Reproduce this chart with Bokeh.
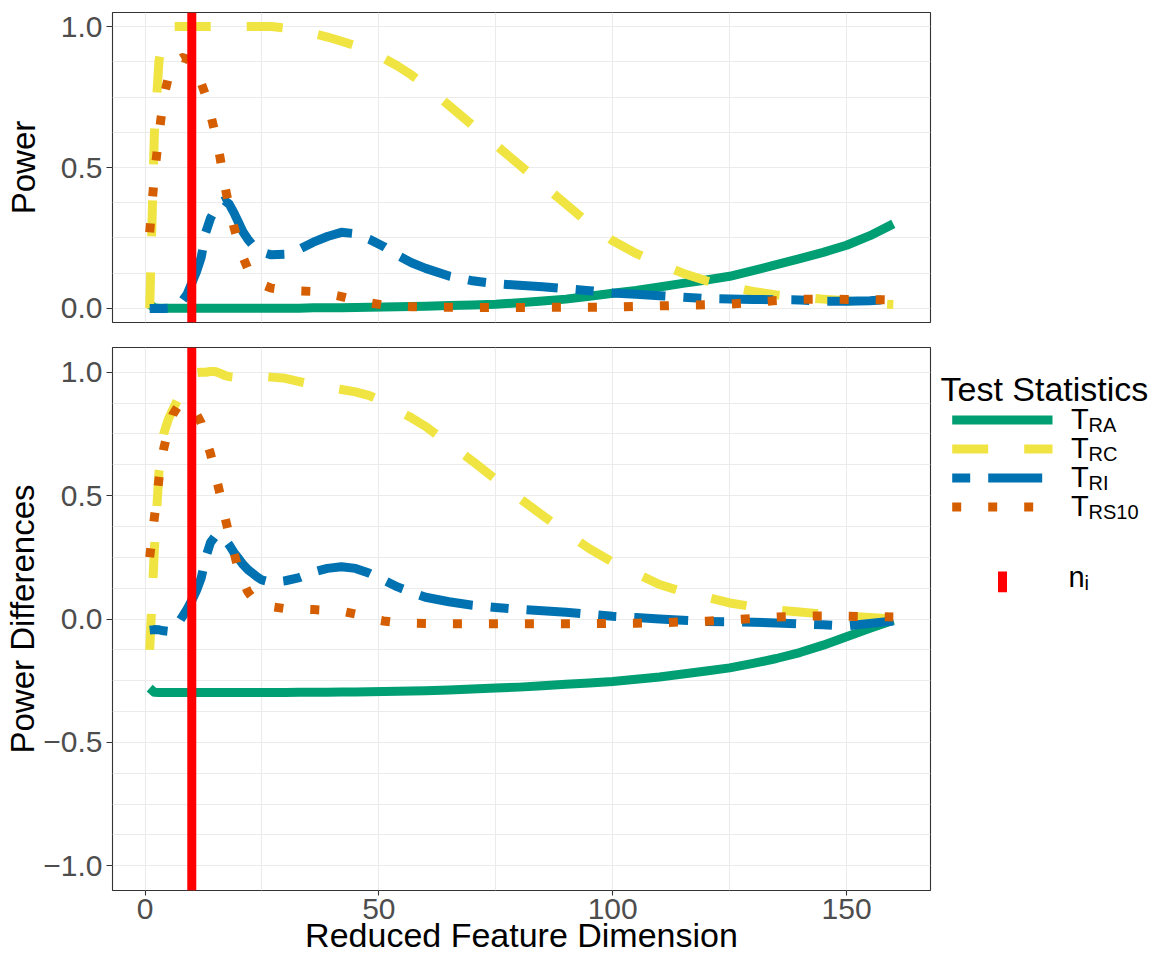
import numpy as np
from bokeh.plotting import figure
from bokeh.layouts import column, row
from bokeh.models import Range1d, FixedTicker, Span, CustomJSTickFormatter
from bokeh.embed import file_html
from bokeh.resources import INLINE
from bokeh.core.properties import value

FONT = "Liberation Sans"

# ---------------- data ----------------
dimension = [1, 2, 3, 4, 5, 6, 7, 8, 9, 10,
             11, 12, 13, 14, 15, 16, 17, 18, 19, 20,
             21, 22, 23, 24, 25,
             27, 30, 33, 36, 39, 42, 45, 48, 51, 54, 57, 60,
             65, 70, 75, 80, 85, 90, 95, 100, 105, 110, 115, 120, 125, 130,
             135, 140, 145, 150, 155, 160]

power_RA = [0.015, 0.002, 0.001, 0.001, 0.001, 0.001, 0.001, 0.001, 0.001, 0.001,
            0.001, 0.001, 0.001, 0.001, 0.001, 0.001, 0.001, 0.001, 0.001, 0.001,
            0.001, 0.001, 0.001, 0.001, 0.001,
            0.001, 0.001, 0.001, 0.002, 0.002, 0.002, 0.003, 0.004, 0.005, 0.006, 0.007, 0.008,
            0.010, 0.012, 0.015, 0.020, 0.026, 0.033, 0.043, 0.054, 0.064, 0.076,
            0.089, 0.101, 0.114, 0.134, 0.155, 0.177, 0.199, 0.224, 0.258, 0.300]

power_RC = [0.0, 0.62, 0.88, 0.96, 0.99, 1.0, 1.0, 1.0, 1.0, 1.0,
            1.0, 1.0, 1.0, 1.0, 1.0, 1.0, 1.0, 1.0, 1.0, 1.0,
            1.0, 1.0, 1.0, 1.0, 1.0,
            1.0, 0.995, 0.985, 0.975, 0.963, 0.948, 0.932, 0.912, 0.888, 0.86, 0.828, 0.79,
            0.72, 0.65, 0.58, 0.51, 0.44, 0.37, 0.30, 0.24, 0.195, 0.158,
            0.125, 0.098, 0.077, 0.06, 0.048, 0.04, 0.033, 0.027, 0.018, 0.014]

power_RI = [0.0, 0.0, 0.0, 0.0, 0.001, 0.004, 0.012, 0.028, 0.05, 0.09,
            0.13, 0.18, 0.27, 0.32, 0.35, 0.375, 0.383, 0.37, 0.34, 0.305,
            0.27, 0.245, 0.225, 0.21, 0.2,
            0.19, 0.192, 0.21, 0.235, 0.255, 0.27, 0.265, 0.245, 0.22, 0.188, 0.162, 0.142,
            0.115, 0.098, 0.088, 0.082, 0.077, 0.07, 0.063, 0.055, 0.05, 0.045,
            0.04, 0.035, 0.033, 0.032, 0.031, 0.03, 0.026, 0.025, 0.027, 0.032]

power_RS10 = [0.27, 0.47, 0.62, 0.75, 0.82, 0.86, 0.88, 0.89, 0.885, 0.87,
              0.84, 0.80, 0.755, 0.69, 0.62, 0.54, 0.44, 0.36, 0.29, 0.23,
              0.18, 0.14, 0.115, 0.095, 0.085,
              0.072, 0.065, 0.062, 0.06, 0.052, 0.042, 0.03, 0.02, 0.012, 0.008, 0.006, 0.005,
              0.004, 0.0035, 0.0035, 0.0035, 0.0035, 0.004, 0.004, 0.005, 0.007, 0.009,
              0.011, 0.013, 0.015, 0.022, 0.028, 0.032, 0.033, 0.032, 0.031, 0.03]

diff_RA = [-0.28, -0.297, -0.298, -0.298, -0.298, -0.298, -0.298, -0.298, -0.298, -0.298,
           -0.298, -0.298, -0.298, -0.298, -0.298, -0.298, -0.298, -0.298, -0.298, -0.298,
           -0.298, -0.298, -0.298, -0.298, -0.298,
           -0.298, -0.298, -0.297, -0.297, -0.297, -0.296, -0.296, -0.295, -0.294, -0.293, -0.292, -0.291,
           -0.288, -0.284, -0.280, -0.276, -0.270, -0.264, -0.259, -0.253, -0.244, -0.235,
           -0.223, -0.211, -0.198, -0.180, -0.160, -0.136, -0.106, -0.072, -0.038, -0.005]

diff_RC = [-0.125, 0.28, 0.6, 0.75, 0.81, 0.85, 0.89, 0.93, 0.96, 0.985,
           0.998, 1.0, 1.0, 1.003, 1.003, 0.996, 0.987, 0.982, 0.98, 0.98,
           0.982, 0.983, 0.984, 0.984, 0.983,
           0.98, 0.975, 0.962, 0.95, 0.94, 0.93, 0.92, 0.905, 0.88, 0.845, 0.815, 0.78,
           0.71, 0.64, 0.565, 0.49, 0.42, 0.35, 0.285, 0.23, 0.185, 0.14,
           0.11, 0.088, 0.065, 0.05, 0.037, 0.028, 0.02, 0.012, 0.006, 0.0]

diff_RI = [-0.045, -0.043, -0.044, -0.048, -0.05, -0.04, -0.02, 0.01, 0.04, 0.075,
           0.115, 0.165, 0.25, 0.31, 0.335, 0.34, 0.325, 0.3, 0.27, 0.245,
           0.22, 0.2, 0.185, 0.17, 0.158,
           0.148, 0.155, 0.168, 0.19, 0.205, 0.212, 0.205, 0.185, 0.158, 0.13, 0.108, 0.088,
           0.07, 0.056, 0.047, 0.039, 0.033, 0.027, 0.019, 0.011, 0.006, 0.0,
           -0.005, -0.01, -0.011, -0.013, -0.016, -0.02, -0.023, -0.028, -0.018, -0.008]

diff_RS10 = [0.25, 0.41, 0.57, 0.69, 0.77, 0.83, 0.86, 0.875, 0.87, 0.855,
             0.83, 0.795, 0.73, 0.67, 0.59, 0.51, 0.42, 0.34, 0.27, 0.2,
             0.15, 0.11, 0.085, 0.07, 0.06,
             0.05, 0.042, 0.04, 0.038, 0.035, 0.032, 0.02, 0.002, -0.008, -0.015, -0.017, -0.018,
             -0.019, -0.019, -0.019, -0.019, -0.019, -0.019, -0.019, -0.018, -0.017, -0.015,
             -0.012, -0.009, -0.004, 0.002, 0.008, 0.012, 0.012, 0.011, 0.01, 0.008]

n_i = 10  # vertical reference line

statistic_names = ["RA", "RC", "RI", "RS10"]
x_ticks = [0, 50, 100, 150]
power_ticks = [0.0, 0.5, 1.0]
diff_ticks = [-1.0, -0.5, 0.0, 0.5, 1.0]

# ---------------- styles ----------------
COLORS = ["#009E73", "#F0E442", "#0072B2", "#D55E00"]
DASHES = ["solid", "36 36", "18 18 54 18", "9 27"]
LW = 9
GRID = "#EBEBEB"
BORDER = "#333333"

span_x = max(dimension) - min(dimension)
x_range = (min(dimension) - 0.05 * span_x, max(dimension) + 0.05 * span_x)
P2_H = 611
P2_FRAME_H = 543

fmt = CustomJSTickFormatter(code="""
const s = Math.abs(tick).toFixed(1);
return tick < 0 ? "\\u2212" + s : s;
""")


def style_axis(ax, label_standoff, title_size="33px"):
    ax.axis_line_color = None
    ax.major_tick_line_color = BORDER
    ax.major_tick_line_width = 1.1
    ax.major_tick_out = 6
    ax.major_tick_in = 0
    ax.minor_tick_line_color = None
    ax.major_label_text_font = FONT
    ax.major_label_text_font_size = "30px"
    ax.major_label_text_color = "#4D4D4D"
    ax.axis_label_text_font = FONT
    ax.axis_label_text_font_size = title_size
    ax.axis_label_text_font_style = "normal"
    ax.axis_label_text_color = "black"
    ax.axis_label_standoff = label_standoff


def style_panel(p, y_grid_ticks):
    p.outline_line_color = BORDER
    p.outline_line_width = 1.1
    p.background_fill_color = "white"
    p.border_fill_color = "white"
    p.xgrid.ticker = FixedTicker(ticks=[0, 25, 50, 75, 100, 125, 150])
    p.ygrid.ticker = FixedTicker(ticks=y_grid_ticks)
    p.xgrid.grid_line_color = GRID
    p.ygrid.grid_line_color = GRID
    p.xgrid.grid_line_width = 1.1
    p.ygrid.grid_line_width = 1.1


def draw_series(p, series):
    for ys, col, dash in zip(series, COLORS, DASHES):
        p.line(dimension, ys, line_color=col, line_width=LW, line_dash=dash,
               line_cap="butt", line_join="round")
    p.add_layout(Span(location=n_i, dimension="height", line_color="#FF0000",
                      line_width=LW))


# ---------------- top panel ----------------
p1 = figure(width=1154, height=346, x_range=Range1d(*x_range),
            y_range=Range1d(-0.05, 1.05), output_backend="svg",
            toolbar_location=None, x_axis_location=None,
            min_border_left=112, min_border_right=224,
            min_border_top=12, min_border_bottom=24)
style_panel(p1, list(np.arange(0, 1.0001, 0.125)))
p1.yaxis.ticker = FixedTicker(ticks=power_ticks)
p1.yaxis.formatter = fmt
p1.yaxis.axis_label = "Power"
style_axis(p1.yaxis[0], 16)
p1.yaxis.major_label_standoff = 4
draw_series(p1, [power_RA, power_RC, power_RI, power_RS10])

# ---------------- bottom panel ----------------
p2 = figure(width=932, height=P2_H, x_range=Range1d(*x_range),
            y_range=Range1d(-1.1, 1.1), output_backend="svg",
            toolbar_location=None,
            min_border_left=112, min_border_right=2,
            min_border_top=1, min_border_bottom=P2_H - 1 - P2_FRAME_H)
style_panel(p2, list(np.arange(-1.0, 1.0001, 0.125)))
p2.yaxis.ticker = FixedTicker(ticks=diff_ticks)
p2.yaxis.formatter = fmt
p2.yaxis.axis_label = "Power Differences"
style_axis(p2.yaxis[0], -1)
p2.yaxis.major_label_standoff = 4
p2.xaxis.ticker = FixedTicker(ticks=x_ticks)
p2.xaxis.axis_label = "Reduced Feature Dimension"
style_axis(p2.xaxis[0], -6, "34px")
p2.xaxis.major_label_standoff = 3
p2.xaxis.major_tick_out = 5
draw_series(p2, [diff_RA, diff_RC, diff_RI, diff_RS10])

# ---------------- legend ----------------
LEG_W = 222
leg = figure(width=LEG_W, height=P2_H, x_range=Range1d(0, LEG_W),
             y_range=Range1d(1 + P2_FRAME_H, 1), output_backend="svg",
             toolbar_location=None, x_axis_location=None, y_axis_location=None,
             min_border_left=0, min_border_right=0,
             min_border_top=1, min_border_bottom=P2_H - 1 - P2_FRAME_H)
leg.grid.visible = False
leg.outline_line_color = None
leg.background_fill_color = "white"
leg.border_fill_color = "white"

TDY = -10    # text baseline correction

leg.text(x=[8], y=[52.3 + TDY], text=["Test Statistics"], text_font=value(FONT),
         text_font_size=value("34px"), text_baseline="alphabetic",
         text_align="left", text_color="black")

key_x0, key_x1 = 19.7, 120
key_y0, key_dy = 73.5, 29
for i, (name, col, dash) in enumerate(zip(statistic_names, COLORS, DASHES)):
    ky = key_y0 + i * key_dy
    leg.line([key_x0, key_x1], [ky, ky], line_color=col, line_width=LW,
             line_dash=dash, line_cap="butt")
    leg.text(x=[138.5], y=[ky + 8.8 + TDY], text=["T"], text_font=value(FONT),
             text_font_size=value("29px"), text_baseline="alphabetic",
             text_align="left", text_color="black")
    leg.text(x=[156], y=[ky + 14.5 + TDY], text=[name], text_font=value(FONT),
             text_font_size=value("20px"), text_baseline="alphabetic",
             text_align="left", text_color="black")

leg.segment(x0=[70], y0=[225], x1=[70], y1=[245.7], line_color="#FF0000",
            line_width=LW, line_cap="butt")
leg.text(x=[136], y=[240.7 + TDY], text=["n"], text_font=value(FONT),
         text_font_size=value("29px"), text_baseline="alphabetic",
         text_align="left", text_color="black")
leg.text(x=[152], y=[246.3 + TDY], text=["i"], text_font=value(FONT),
         text_font_size=value("20px"), text_baseline="alphabetic",
         text_align="left", text_color="black")

layout = column(p1, row(p2, leg))
open("out.html", "w").write(file_html(layout, INLINE))
